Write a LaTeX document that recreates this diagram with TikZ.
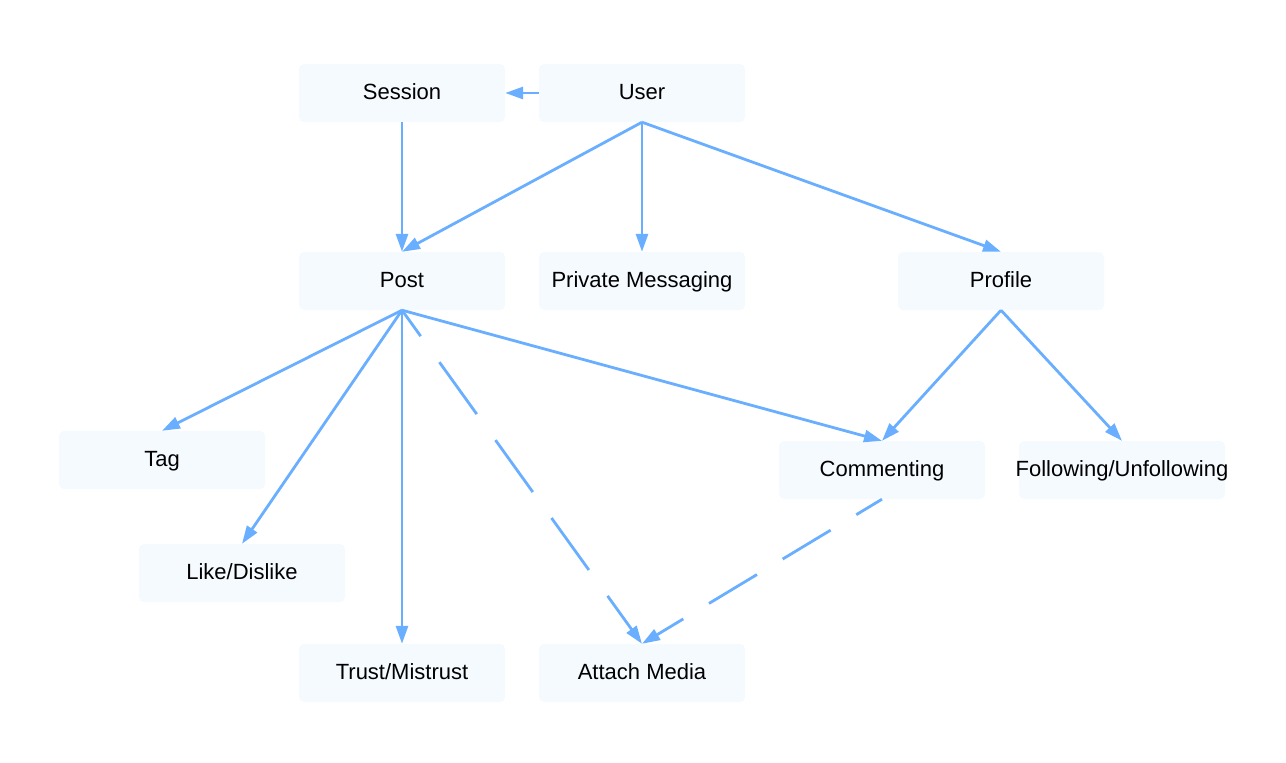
\documentclass[tikz,border=0pt]{standalone}
\usepackage{fontspec}
\setmainfont{Liberation Sans}
\usetikzlibrary{arrows.meta}
\definecolor{linkblue}{HTML}{6AAFFF}
\definecolor{boxfill}{HTML}{F5FAFF}

\begin{document}
\begin{tikzpicture}[x=1pt,y=-1pt]
\tikzset{
	box/.style={
		shape=rectangle,
		rounded corners=5pt,
		fill=boxfill,
		minimum width=206pt,
		minimum height=58pt,
		inner sep=0pt,
		text height=16pt, % same baseline in every box
		text depth=4pt,
		font=\fontsize{22}{26}\selectfont
	},
	link/.style={draw=linkblue, line width=2.8pt, -{Triangle[length=18pt,width=12pt]}},
	dashlink/.style={link, dash pattern=on 64pt off 32pt, dash phase=32pt}
}

\useasboundingbox (0,0) rectangle (1286,763);

\node[box] (Session) at (402,93) {Session};
\node[box] (User) at (642,93) {User};
\node[box] (Post) at (402,281) {Post};
\node[box] (PrivMsg) at (642,281) {Private Messaging};
\node[box] (Profile) at (1001,281) {Profile};
\node[box] (Tag) at (162,460) {Tag};
\node[box] (Comment) at (882,470) {Commenting};
\node[box] (Follow) at (1122,470) {\makebox[0pt]{Following/Unfollowing}}; % text wider than box
\node[box] (Like) at (242,573) {Like/Dislike};
\node[box] (Trust) at (402,673) {Trust/Mistrust};
\node[box] (Media) at (642,673) {Attach Media};

% user side
\draw[link] (User.west) -- (Session.east);
\draw[link] (Session.south) -- (Post.north);
\draw[link] (User.south) -- (Post.north);
\draw[link] (User.south) -- (PrivMsg.north);
\draw[link] (User.south) -- (Profile.north);

% post side
\draw[link] (Post.south) -- (Tag.north);
\draw[link] (Post.south) -- (Like.north);
\draw[link] (Post.south) -- (Trust.north);
\draw[dashlink] (Post.south) -- (Media.north);
\draw[link] (Post.south) -- (Comment.north);
\draw[link] (Profile.south) -- (Comment.north);
\draw[link] (Profile.south) -- (Follow.north);
\draw[dashlink, dash pattern=on 56pt off 30pt, dash phase=26pt] (Comment.south) -- (Media.north);
\end{tikzpicture}
\end{document}
